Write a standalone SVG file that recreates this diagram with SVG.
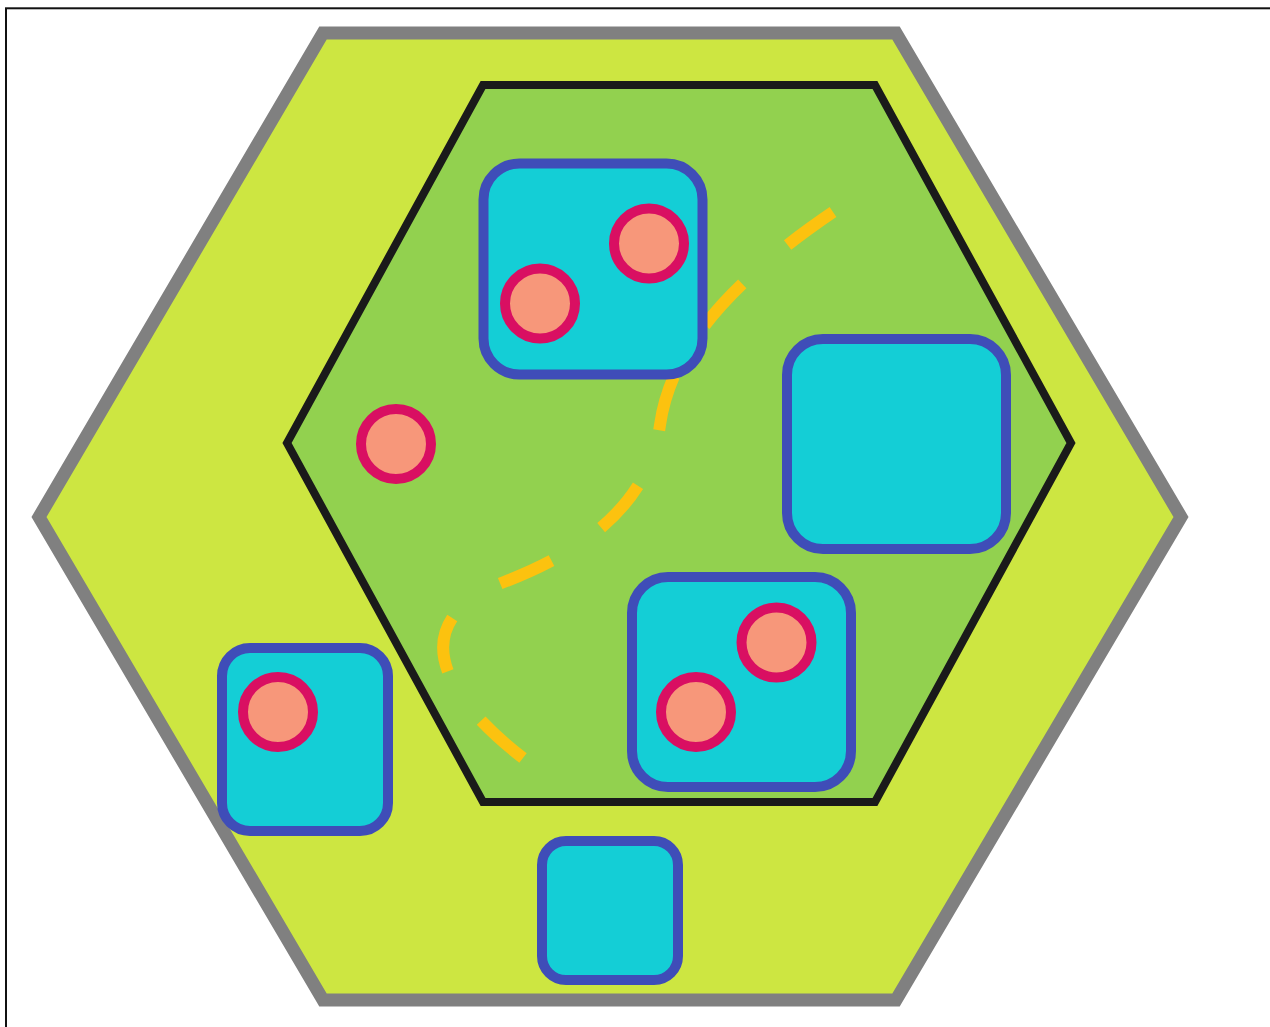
<svg xmlns="http://www.w3.org/2000/svg" width="1270" height="1027" viewBox="0 0 1270 1027">
  <style>
    .box { fill: #14ced6; stroke: #3f4db8; stroke-width: 10; }
    .dot { fill: #f7977a; stroke: #d90f62; stroke-width: 10; }
    .path { fill: none; stroke: #fcc20f; stroke-width: 12; stroke-dasharray: 56 60; }
  </style>
  <rect x="0" y="0" width="1270" height="1027" fill="#ffffff"/>
  <rect x="6" y="8.3" width="1300" height="1100" fill="#ffffff" stroke="#111111" stroke-width="2"/>
  <g id="outer-hexagon">
    <polygon points="323,33 896,33 1181,517 896,1000 323,1000 39,517" fill="#cde641" stroke="#808080" stroke-width="13"/>
  </g>
  <g id="inner-hexagon">
    <polygon points="483,85 875,85 1071,443 875,802 483,802 287,443" fill="#92d14f" stroke="#1a1a1a" stroke-width="8"/>
  </g>
  <g id="connectors">
    <path class="path" pathLength="752" d="M 833 212 C 745 272, 672 340, 660 425 C 652 482, 614 540, 504 582 C 420 614, 420 678, 523 758"/>
  </g>
  <g id="box-top">
    <rect class="box" x="483.5" y="163.5" width="219" height="211" rx="36"/>
  </g>
  <g id="box-right">
    <rect class="box" x="787" y="339" width="219" height="210" rx="36"/>
  </g>
  <g id="box-lower">
    <rect class="box" x="632" y="577" width="219" height="210" rx="36"/>
  </g>
  <g id="box-left">
    <rect class="box" x="222" y="648" width="166" height="183" rx="28"/>
  </g>
  <g id="box-bottom">
    <rect class="box" x="542" y="841" width="136" height="139" rx="24"/>
  </g>
  <g id="dot-1"><circle class="dot" cx="649" cy="243.5" r="35"/></g>
  <g id="dot-2"><circle class="dot" cx="540" cy="303.5" r="35"/></g>
  <g id="dot-3"><circle class="dot" cx="396" cy="444" r="35"/></g>
  <g id="dot-4"><circle class="dot" cx="776.5" cy="642.5" r="35"/></g>
  <g id="dot-5"><circle class="dot" cx="696" cy="712" r="35"/></g>
  <g id="dot-6"><circle class="dot" cx="278" cy="712" r="35"/></g>
</svg>
